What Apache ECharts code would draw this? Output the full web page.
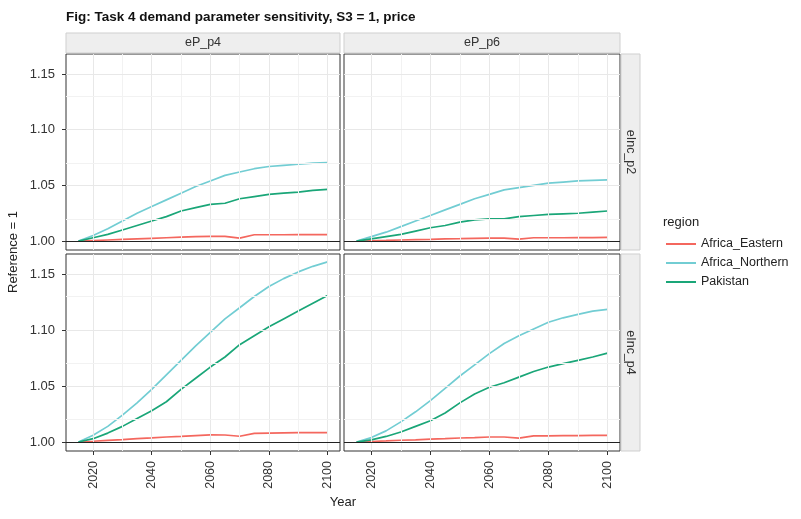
<!DOCTYPE html>
<html>
<head>
<meta charset="utf-8">
<script src="https://cdn.jsdelivr.net/npm/echarts@6/dist/echarts.min.js"></script>
<style>
  html, body { margin: 0; padding: 0; background: #fff; }
  #chart { width: 801px; height: 519px; }
</style>
</head>
<body>
<div id="chart"></div>
<script>
// years and tick values
var years = [2015, 2020, 2025, 2030, 2035, 2040, 2045, 2050, 2055, 2060, 2065, 2070, 2075, 2080, 2085, 2090, 2095, 2100];
var xTicks = [2020, 2040, 2060, 2080, 2100];
var xMinor = [2030, 2050, 2070, 2090];
var yTicks = [1.00, 1.05, 1.10, 1.15];
var yMinor = [1.025, 1.075, 1.125];
var regions = ['Africa_Eastern', 'Africa_Northern', 'Pakistan'];
var colEP = ['eP_p4', 'eP_p6'];
var rowInc = ['eInc_p2', 'eInc_p4'];

// eInc_p2 / eP_p4
var inc2_p4_eastern  = [1.000, 1.0005, 1.001, 1.0015, 1.002, 1.0025, 1.003, 1.0035, 1.004, 1.0043, 1.0043, 1.0027, 1.0057, 1.0057, 1.0057, 1.0058, 1.0058, 1.0058];
var inc2_p4_northern = [1.000, 1.005, 1.011, 1.018, 1.025, 1.031, 1.037, 1.043, 1.049, 1.054, 1.059, 1.062, 1.065, 1.067, 1.068, 1.069, 1.070, 1.0705];
var inc2_p4_pakistan = [1.000, 1.003, 1.006, 1.010, 1.014, 1.018, 1.022, 1.027, 1.030, 1.033, 1.034, 1.038, 1.040, 1.042, 1.043, 1.044, 1.0455, 1.0465];
// eInc_p2 / eP_p6
var inc2_p6_eastern  = [1.000, 1.0003, 1.0006, 1.001, 1.0013, 1.0016, 1.002, 1.0022, 1.0025, 1.0027, 1.0027, 1.0018, 1.003, 1.003, 1.003, 1.0032, 1.0032, 1.0033];
var inc2_p6_northern = [1.000, 1.004, 1.008, 1.013, 1.018, 1.023, 1.028, 1.033, 1.038, 1.042, 1.046, 1.048, 1.050, 1.052, 1.053, 1.054, 1.0545, 1.055];
var inc2_p6_pakistan = [1.000, 1.002, 1.004, 1.006, 1.009, 1.012, 1.014, 1.017, 1.019, 1.020, 1.020, 1.022, 1.023, 1.024, 1.0245, 1.025, 1.026, 1.027];
// eInc_p4 / eP_p4
var inc4_p4_eastern  = [1.000, 1.0007, 1.0015, 1.0022, 1.003, 1.0037, 1.0045, 1.005, 1.0057, 1.0064, 1.0063, 1.0052, 1.0078, 1.008, 1.0082, 1.0084, 1.0085, 1.0085];
var inc4_p4_northern = [1.000, 1.006, 1.014, 1.024, 1.035, 1.047, 1.060, 1.073, 1.086, 1.098, 1.110, 1.120, 1.130, 1.139, 1.146, 1.152, 1.157, 1.161];
var inc4_p4_pakistan = [1.000, 1.003, 1.008, 1.014, 1.021, 1.028, 1.036, 1.047, 1.057, 1.067, 1.076, 1.087, 1.095, 1.103, 1.110, 1.117, 1.124, 1.131];
// eInc_p4 / eP_p6
var inc4_p6_eastern  = [1.000, 1.0005, 1.001, 1.0016, 1.002, 1.0026, 1.003, 1.0036, 1.004, 1.0045, 1.0045, 1.0035, 1.0055, 1.0056, 1.0057, 1.0058, 1.006, 1.006];
var inc4_p6_northern = [1.000, 1.004, 1.010, 1.018, 1.027, 1.037, 1.048, 1.059, 1.069, 1.079, 1.088, 1.095, 1.101, 1.107, 1.111, 1.114, 1.117, 1.1185];
var inc4_p6_pakistan = [1.000, 1.002, 1.005, 1.009, 1.014, 1.019, 1.026, 1.035, 1.043, 1.049, 1.053, 1.058, 1.063, 1.067, 1.070, 1.073, 1.076, 1.0795];

var panelData = [
  [inc2_p4_eastern, inc2_p4_northern, inc2_p4_pakistan],
  [inc2_p6_eastern, inc2_p6_northern, inc2_p6_pakistan],
  [inc4_p4_eastern, inc4_p4_northern, inc4_p4_pakistan],
  [inc4_p6_eastern, inc4_p6_northern, inc4_p6_pakistan]
];

var colors = ['#F4675E', '#72CDD3', '#1AA678'];
var font = 'Liberation Sans, Arial, sans-serif';

// panel boxes (left, top, width, height)
var boxes = [
  [66, 54, 274, 196],
  [344, 54, 276, 196],
  [66, 254, 274, 197],
  [344, 254, 276, 197]
];

var myChart = echarts.init(document.getElementById('chart'));

var grids = [], xAxes = [], yAxes = [], series = [];
boxes.forEach(function (b, i) {
  var bottomRow = i >= 2, leftCol = i % 2 === 0;
  grids.push({ left: b[0], top: b[1], width: b[2], height: b[3], show: true,
    borderColor: '#333', borderWidth: 1, backgroundColor: '#fff', containLabel: false });
  xAxes.push({
    type: 'value', gridIndex: i, min: 2010.75, max: 2104.25,
    axisLine: { show: false },
    splitLine: { show: false },
    axisTick: { show: bottomRow, customValues: xTicks, length: 4, lineStyle: { color: '#333' } },
    axisLabel: { show: bottomRow, customValues: xTicks, rotate: 90, margin: 10,
      color: '#333', fontSize: 12.5, fontFamily: font,
      formatter: function (v) { return String(v); } }
  });
  yAxes.push({
    type: 'value', gridIndex: i, min: 0.992, max: 1.168,
    axisLine: { show: false },
    splitLine: { show: false },
    axisTick: { show: leftCol, customValues: yTicks, length: 4, lineStyle: { color: '#333' } },
    axisLabel: { show: leftCol, customValues: yTicks, margin: 11, color: '#333', fontSize: 13,
      fontFamily: font, formatter: function (v) { return v.toFixed(2); } }
  });

  // background grid + reference line at 1
  var ml = [];
  xTicks.forEach(function (v) { ml.push({ xAxis: v, lineStyle: { color: '#e8e8e8', width: 1, type: 'solid' } }); });
  xMinor.forEach(function (v) { ml.push({ xAxis: v, lineStyle: { color: '#f2f2f2', width: 1, type: 'solid' } }); });
  yTicks.forEach(function (v) { ml.push({ yAxis: v, lineStyle: { color: '#e8e8e8', width: 1, type: 'solid' } }); });
  yMinor.forEach(function (v) { ml.push({ yAxis: v, lineStyle: { color: '#f2f2f2', width: 1, type: 'solid' } }); });
  ml.push({ yAxis: 1, lineStyle: { color: '#222', width: 1, type: 'solid' } });
  series.push({
    type: 'line', xAxisIndex: i, yAxisIndex: i, data: [], silent: true, z: 1,
    markLine: { silent: true, symbol: ['none', 'none'], label: { show: false }, animation: false, data: ml }
  });

  regions.forEach(function (r, k) {
    series.push({
      name: r, type: 'line', xAxisIndex: i, yAxisIndex: i, z: 3,
      symbol: 'none', smooth: false,
      lineStyle: { width: 1.7, color: colors[k] },
      itemStyle: { color: colors[k] },
      data: years.map(function (yr, j) { return [yr, panelData[i][k][j]]; })
    });
  });
});

// strips
var graphics = [];
colEP.forEach(function (lab, c) {
  var b = boxes[c];
  graphics.push({ type: 'rect', shape: { x: b[0], y: 33, width: b[2], height: 20 },
    style: { fill: '#eeeeee', stroke: '#cfcfcf', lineWidth: 1 }, z: 5 });
  graphics.push({ type: 'text', x: b[0] + b[2] / 2, y: 43,
    style: { text: lab, fill: '#333', font: '12.5px ' + font, align: 'center', verticalAlign: 'middle' }, z: 6 });
});
rowInc.forEach(function (lab, r) {
  var b = boxes[r * 2 + 1];
  graphics.push({ type: 'rect', shape: { x: 621, y: b[1], width: 19, height: b[3] },
    style: { fill: '#eeeeee', stroke: '#cfcfcf', lineWidth: 1 }, z: 5 });
  graphics.push({ type: 'text', x: 630.5, y: b[1] + b[3] / 2, rotation: -Math.PI / 2,
    style: { text: lab, fill: '#333', font: '12.5px ' + font, align: 'center', verticalAlign: 'middle' }, z: 6 });
});
graphics.push({ type: 'text', x: 66, y: 17,
  style: { text: 'Fig: Task 4 demand parameter sensitivity, S3 = 1, price', fill: '#111',
    font: 'bold 13.5px ' + font, align: 'left', verticalAlign: 'middle' } });
graphics.push({ type: 'text', x: 13, y: 252, rotation: Math.PI / 2,
  style: { text: 'Reference = 1', fill: '#222', font: '13px ' + font, align: 'center', verticalAlign: 'middle' } });
graphics.push({ type: 'text', x: 343, y: 502,
  style: { text: 'Year', fill: '#222', font: '13px ' + font, align: 'center', verticalAlign: 'middle' } });
graphics.push({ type: 'text', x: 663, y: 222,
  style: { text: 'region', fill: '#222', font: '13px ' + font, align: 'left', verticalAlign: 'middle' } });

myChart.setOption({
  animation: false,
  backgroundColor: '#fff',
  grid: grids,
  xAxis: xAxes,
  yAxis: yAxes,
  legend: {
    data: regions.map(function (r) { return { name: r, icon: 'rect' }; }),
    orient: 'vertical', left: 661, top: 232,
    itemWidth: 30, itemHeight: 2, itemGap: 5,
    textStyle: { fontSize: 12.5, color: '#222', fontFamily: font, lineHeight: 14 }
  },
  graphic: graphics,
  series: series
}, true);
</script>
</body>
</html>
